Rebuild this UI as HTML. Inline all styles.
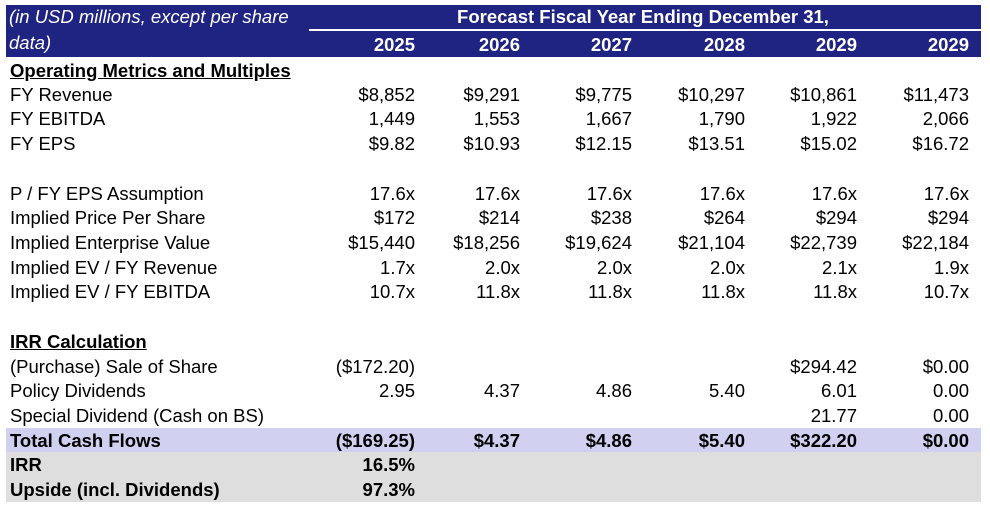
<!DOCTYPE html>
<html><head><meta charset="utf-8"><style>
body{margin:0;width:990px;height:507px;background:#fff;font-family:"Liberation Sans",Arial,sans-serif;font-size:18.5px;color:#000;position:relative;overflow:hidden}
.a{position:absolute;white-space:nowrap;line-height:20px}
.r{text-align:right}
.b{font-weight:bold}
</style></head><body>
<div style="position:absolute;left:6px;top:5px;width:975px;height:52px;background:#1f2381"></div>
<div style="position:absolute;left:309px;top:29px;width:672px;height:2px;background:#fff"></div>
<div style="position:absolute;left:6px;top:428px;width:975px;height:24px;background:#d0d0f0"></div>
<div style="position:absolute;left:6px;top:452px;width:975px;height:50px;background:#dedede"></div>
<div id="t"></div>
<script>
const years=["2025","2026","2027","2028","2029","2029"];
const rights=[415,520,632,745,857,969];
const rows=[
["FY Revenue",95,["$8,852","$9,291","$9,775","$10,297","$10,861","$11,473"]],
["FY EBITDA",119,["1,449","1,553","1,667","1,790","1,922","2,066"]],
["FY EPS",144,["$9.82","$10.93","$12.15","$13.51","$15.02","$16.72"]],
["P / FY EPS Assumption",194,["17.6x","17.6x","17.6x","17.6x","17.6x","17.6x"]],
["Implied Price Per Share",218,["$172","$214","$238","$264","$294","$294"]],
["Implied Enterprise Value",243,["$15,440","$18,256","$19,624","$21,104","$22,739","$22,184"]],
["Implied EV / FY Revenue",268,["1.7x","2.0x","2.0x","2.0x","2.1x","1.9x"]],
["Implied EV / FY EBITDA",292,["10.7x","11.8x","11.8x","11.8x","11.8x","10.7x"]],
["(Purchase) Sale of Share",367,["($172.20)","","","","$294.42","$0.00"]],
["Policy Dividends",391,["2.95","4.37","4.86","5.40","6.01","0.00"]],
["Special Dividend (Cash on BS)",416,["","","","","21.77","0.00"]],
["Total Cash Flows",441,["($169.25)","$4.37","$4.86","$5.40","$322.20","$0.00"],1],
["IRR",465,["16.5%","","","","",""],1],
["Upside (incl. Dividends)",490,["97.3%","","","","",""],1]
];
const t=document.getElementById('t');
function add(txt,x,y,cls,right,name,style){
  const d=document.createElement('div');
  d.className='a '+cls;
  d.textContent=txt;
  d.style.top=(y-10)+'px';
  if(right){d.style.left=(x-200)+'px';d.style.width='200px';d.classList.add('r');}
  else d.style.left=x+'px';
  if(style)d.style.cssText+=style;
  
  
  t.appendChild(d);
}
add("(in USD millions, except per share",9,17,"","", "units-note-line1","font-style:italic;color:#fff");
add("data)",9,43,"","", "units-note-line2","font-style:italic;color:#fff");
add("Forecast Fiscal Year Ending December 31,",643,17,"b","", "forecast-header","color:#fff;transform:translateX(-50%)");
years.forEach((y,i)=>add(y,rights[i],45,"b",1,"year-header","color:#fff"));
add("Operating Metrics and Multiples",10,71,"b","", "section-operating","text-decoration:underline");
add("IRR Calculation",10,342,"b","", "section-irr","text-decoration:underline");
rows.forEach(r=>{
  add(r[0],10,r[1],r[3]?"b":"",0,"row-label");
  r[2].forEach((v,i)=>{if(v)add(v,rights[i],r[1],r[3]?"b":"",1,"cell-value");});
});
</script>
</body></html>
